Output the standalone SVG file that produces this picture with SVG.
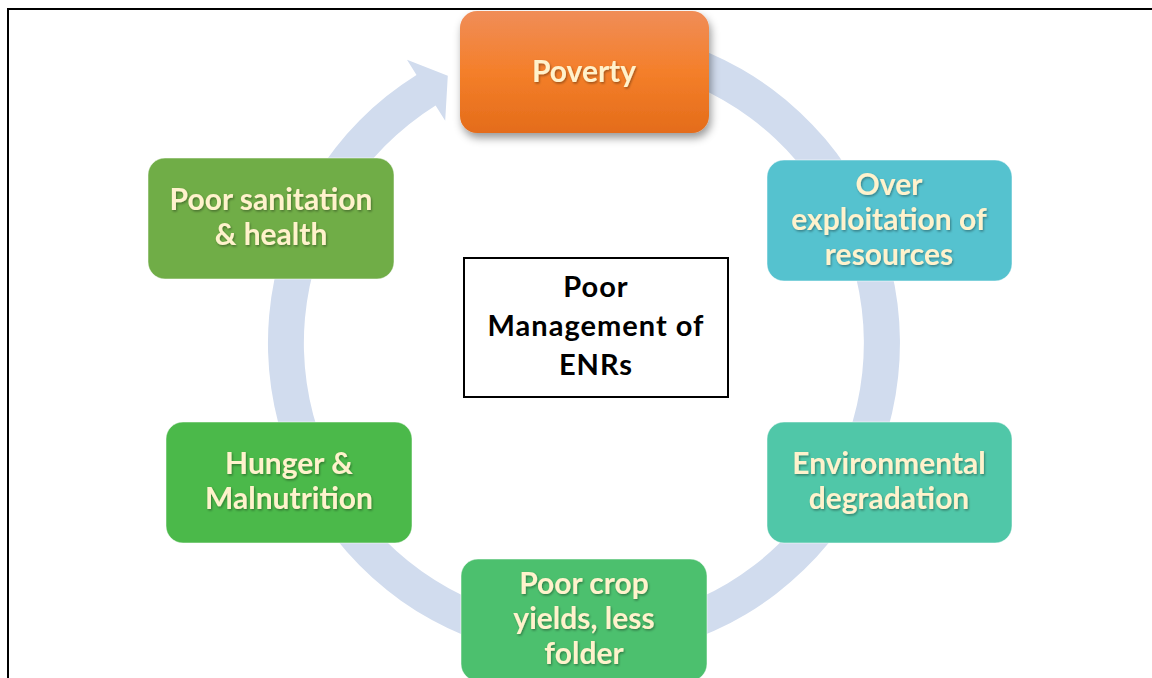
<svg xmlns="http://www.w3.org/2000/svg" width="1152" height="678" viewBox="0 0 1152 678">
  <style>
    .lbl { font-family: Lato, "Open Sans", "Liberation Sans", sans-serif; font-weight: 700; font-size: 30px; fill: #FFF2CC; text-anchor: middle; filter: url(#tsh); }
    .ctr { font-family: Lato, "Liberation Sans", sans-serif; font-weight: 700; font-size: 29px; letter-spacing: 1px; fill: #000000; text-anchor: middle; }
    .box { stroke: #ffffff; stroke-opacity: 0.5; stroke-width: 1; }
  </style>
  <defs>
    <linearGradient id="gPov" x1="0" y1="0" x2="0" y2="1">
      <stop offset="0" stop-color="#F08D58"/>
      <stop offset="0.5" stop-color="#F47F2A"/>
      <stop offset="1" stop-color="#E46C1A"/>
    </linearGradient>
    <filter id="tsh" x="-10%" y="-20%" width="120%" height="150%">
      <feDropShadow dx="1" dy="1.5" stdDeviation="1" flood-color="#000000" flood-opacity="0.35"/>
    </filter>
    <filter id="bsh" x="-10%" y="-20%" width="125%" height="150%">
      <feDropShadow dx="2" dy="5" stdDeviation="4" flood-color="#000000" flood-opacity="0.4"/>
    </filter>
  </defs>
  <rect width="1152" height="678" fill="#ffffff"/>
  <path d="M 8 678 L 8 9 L 1152 9" fill="none" stroke="#000000" stroke-width="2"/>

  <g id="connectors">
    <path d="M 638.9 31.8 A 316 316 0 1 1 416.5 75.0 L 407.0 59.8 L 447.8 75.7 L 445.2 120.8 L 435.6 105.5 A 280 280 0 1 0 632.6 67.3 Z" fill="#D1DCEE"/>
  </g>

  <g id="center">
    <rect x="464" y="258" width="264" height="139" fill="#ffffff" stroke="#000000" stroke-width="2"/>
    <text class="ctr" x="596" y="297">Poor</text>
    <text class="ctr" x="596" y="336">Management of</text>
    <text class="ctr" x="596" y="375">ENRs</text>
  </g>

  <g id="poverty">
    <rect x="460" y="11" width="249" height="122" rx="17" fill="url(#gPov)" filter="url(#bsh)"/>
    <text class="lbl" x="584" y="82">Poverty</text>
  </g>

  <g id="over-exploitation">
    <rect class="box" x="767" y="160" width="245" height="121" rx="17" fill="#55C2CF"/>
    <text class="lbl" x="889" y="195">Over</text>
    <text class="lbl" x="889" y="230">exploitation of</text>
    <text class="lbl" x="889" y="265">resources</text>
  </g>

  <g id="environmental">
    <rect class="box" x="767" y="422" width="245" height="121" rx="17" fill="#50C7A8"/>
    <text class="lbl" x="889" y="474">Environmental</text>
    <text class="lbl" x="889" y="509">degradation</text>
  </g>

  <g id="crop-yields">
    <rect class="box" x="461" y="559" width="246" height="122" rx="17" fill="#4CC06E"/>
    <text class="lbl" x="584" y="594">Poor crop</text>
    <text class="lbl" x="584" y="629">yields, less</text>
    <text class="lbl" x="584" y="664">folder</text>
  </g>

  <g id="hunger">
    <rect class="box" x="166" y="422" width="246" height="121" rx="17" fill="#4BB94A"/>
    <text class="lbl" x="289" y="474">Hunger &amp;</text>
    <text class="lbl" x="289" y="509">Malnutrition</text>
  </g>

  <g id="sanitation">
    <rect class="box" x="148" y="158" width="246" height="121" rx="17" fill="#70AD47"/>
    <text class="lbl" x="271" y="210">Poor sanitation</text>
    <text class="lbl" x="271" y="245">&amp; health</text>
  </g>
</svg>
